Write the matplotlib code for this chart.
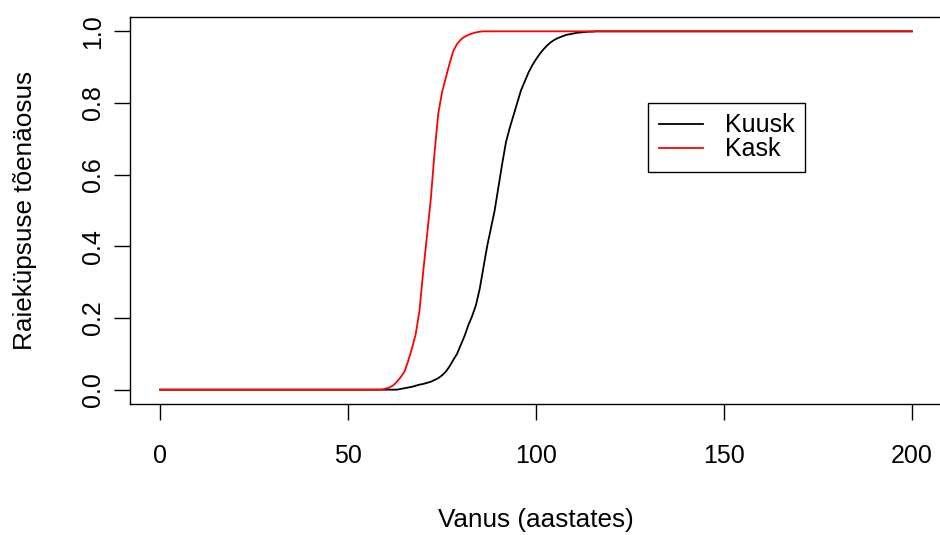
"""
Raiekupsuse toenaosus vanuse jargi: Kuusk vs Kask.

Writes:
  out.png   (940x535, R base-graphics look)
"""
import matplotlib

matplotlib.use("Agg")  # headless rendering
import matplotlib.pyplot as plt

plt.rcParams["font.family"] = ["Liberation Sans", "DejaVu Sans"]

# ---------------------------------------------------------------------------
# Data
# ---------------------------------------------------------------------------
KASK_AGE = [0, 59, 60, 61, 62, 63, 64, 65, 66, 67, 68, 69, 70, 71, 72, 73,
            74, 75, 76, 77, 78, 79, 80, 81, 82, 83, 84, 85, 86, 200]
KASK_P = [0.0, 0.0, 0.003, 0.006, 0.012, 0.022, 0.035, 0.05, 0.08, 0.115,
          0.155, 0.22, 0.33, 0.43, 0.53, 0.66, 0.77, 0.83, 0.87, 0.91, 0.945,
          0.965, 0.977, 0.985, 0.99, 0.994, 0.997, 0.999, 1.0, 1.0]

KUUSK_AGE = [0, 63, 64, 65, 66, 67, 68, 69, 70, 71, 72, 73, 74, 75, 76, 77,
             78, 79, 80, 81, 82, 83, 84, 85, 86, 87, 88, 89, 90, 91, 92, 93,
             94, 95, 96, 97, 98, 99, 100, 101, 102, 103, 104, 105, 106, 107,
             108, 109, 110, 111, 112, 113, 114, 115, 116, 200]
KUUSK_P = [0.0, 0.0, 0.002, 0.004, 0.006, 0.008, 0.011, 0.014, 0.016, 0.019,
           0.022, 0.027, 0.032, 0.04, 0.05, 0.065, 0.083, 0.1, 0.125, 0.15,
           0.18, 0.205, 0.235, 0.28, 0.34, 0.4, 0.45, 0.5, 0.565, 0.63, 0.69,
           0.73, 0.765, 0.8, 0.835, 0.86, 0.885, 0.905, 0.922, 0.937, 0.95,
           0.961, 0.97, 0.977, 0.982, 0.986, 0.99, 0.992, 0.994, 0.996,
           0.997, 0.998, 0.999, 0.999, 1.0, 1.0]

X_TICKS = [0, 50, 100, 150, 200]
Y_TICKS = [0.0, 0.2, 0.4, 0.6, 0.8, 1.0]

FS = 18
FS_LAB = 18.8


def plot_curves(out="out.png"):
    fig = plt.figure(figsize=(9.4, 5.35), dpi=100)
    # R-style box: 4% padding around the data range
    ax = fig.add_axes([130 / 940, 1 - 404 / 535, 812 / 940, 387 / 535])
    ax.plot(KUUSK_AGE, KUUSK_P, color="black", linewidth=1.3, label="Kuusk")
    ax.plot(KASK_AGE, KASK_P, color="red", linewidth=1.3, label="Kask")

    ax.set_xlim(-8, 208)
    ax.set_ylim(-0.04, 1.04)
    ax.set_xticks(X_TICKS)
    ax.set_xticklabels([str(v) for v in X_TICKS], fontsize=FS)
    ax.set_yticks(Y_TICKS)
    ax.set_yticklabels([f"{v:.1f}" for v in Y_TICKS], fontsize=FS,
                       rotation=90, va="center")
    ax.tick_params(axis="both", direction="out", length=11.5, width=1.0)
    ax.tick_params(axis="x", pad=17)
    ax.tick_params(axis="y", pad=6.5)
    for s in ax.spines.values():
        s.set_linewidth(1.0)

    ax.set_xlabel("Vanus (aastates)", fontsize=FS_LAB, labelpad=29)
    ax.set_ylabel("Raieküpsuse tõenäosus", fontsize=FS_LAB, labelpad=32)

    ax.legend(loc="upper left", bbox_to_anchor=(648 / 940, 1 - 103 / 535),
              bbox_transform=fig.transFigure, fontsize=FS, frameon=True,
              fancybox=False, edgecolor="black", framealpha=1,
              borderpad=0.42, borderaxespad=0, handlelength=1.76,
              handletextpad=0.9, labelspacing=0.0)
    leg = ax.get_legend()
    leg.get_frame().set_linewidth(1.0)

    fig.savefig(out, dpi=100)
    plt.close(fig)
    return out


if __name__ == "__main__":
    plot_curves()
